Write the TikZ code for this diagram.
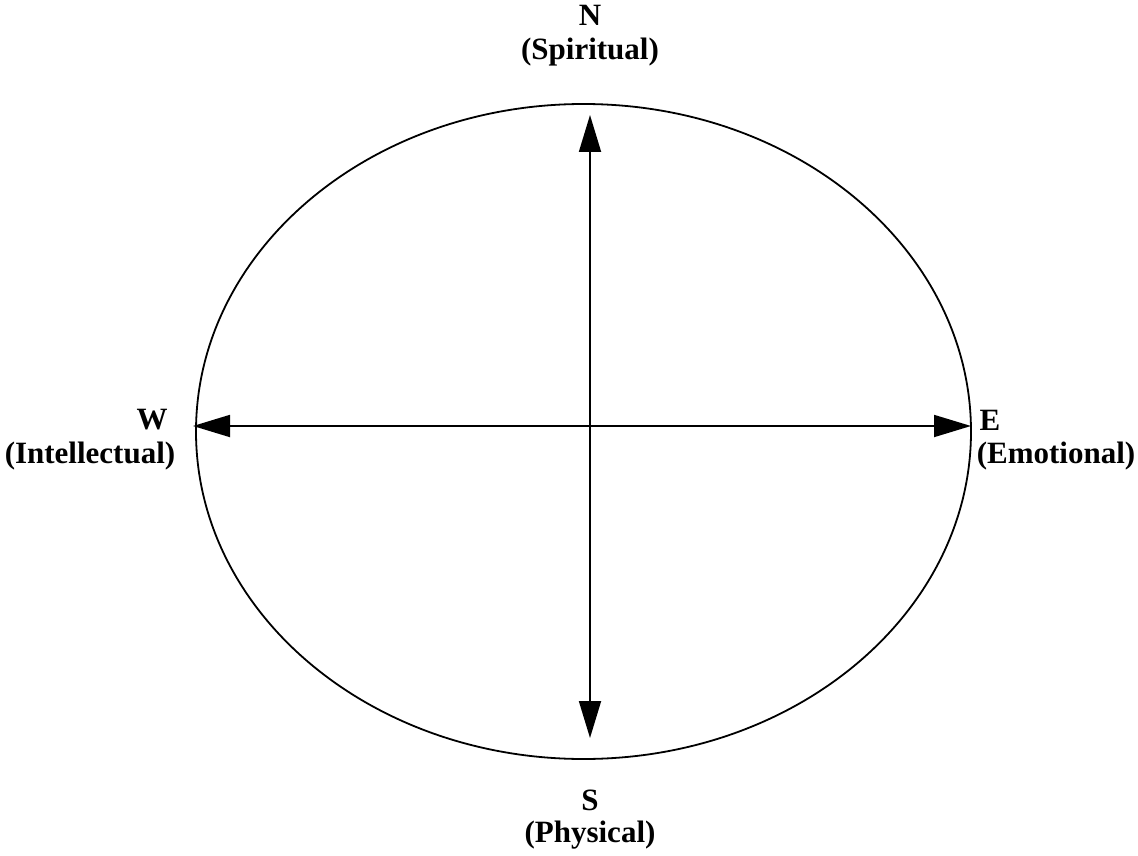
\documentclass[tikz,border=0pt]{standalone}
\usepackage{fontspec}
\setmainfont{Liberation Serif}
\usetikzlibrary{arrows.meta}
\begin{document}
\begin{tikzpicture}[x=1pt,y=-1pt,
  lbl/.style={font=\fontsize{31}{37}\selectfont\bfseries, inner sep=0pt, anchor=center},
  axis/.style={line width=1.8pt, {Triangle[length=37pt,width=22pt]}-{Triangle[length=37pt,width=22pt]}},
  rim/.style={line width=1.8pt}]
\useasboundingbox (0,0) rectangle (1138,856);
\draw[rim] (583.5,431.5) ellipse [x radius=387.5, y radius=327.5];
\coordinate (n) at (590,115);
\coordinate (s) at (590,738);
\coordinate (w) at (193,426);
\coordinate (e) at (971,426);
\draw[axis] (s) -- (n);
\draw[axis] (w) -- (e);
\node[lbl] (nl) at (590,15) {N};
\node[lbl] (nt) at (590,52) {(Spiritual)};
\node[lbl] (sl) at (590,800) {S};
\node[lbl] (st) at (590,835) {(Physical)};
\node[lbl] (wl) at (152,420) {W};
\node[lbl] (wt) at (90,456) {(Intellectual)};
\node[lbl] (el) at (990,420) {E};
\node[lbl] (et) at (1056,456) {(Emotional)};
\end{tikzpicture}
\end{document}
